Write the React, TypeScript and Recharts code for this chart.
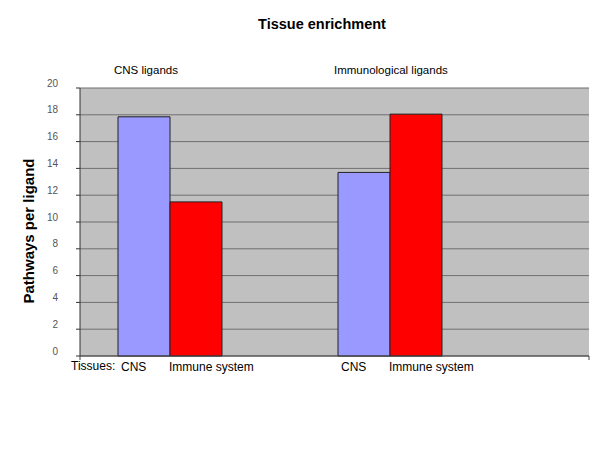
import React from 'react';
import { BarChart, Bar, XAxis, YAxis, CartesianGrid, ReferenceLine, LabelList, Label } from 'recharts';

const groups = ['CNS ligands', 'Immunological ligands'];
const tissues = ['CNS', 'Immune system'];
const cnsTissue = [17.85, 13.7];
const immuneTissue = [11.5, 18.05];
const yTicks = [0, 2, 4, 6, 8, 10, 12, 14, 16, 18, 20];
const axisTicks = [0, 1, 2, 3, 4];

const chartData = groups.map((g, i) => ({ group: g, cns: cnsTissue[i], immune: immuneTissue[i] }));

const FONT = '"Liberation Sans", Arial, sans-serif';

const YTick = (props: any) => {
  const { x, y, payload } = props;
  return (
    <text x={x} y={y - 5} textAnchor="end" dominantBaseline="central" fill="#555" fontSize={10} fontFamily={FONT}>
      {payload.value}
    </text>
  );
};

// group names sit above the plot, left aligned with the group's first bar
const GroupTick = (props: any) => {
  const { x, y, payload } = props;
  return (
    <text x={x - 56} y={y - 6} textAnchor="start" fill="#000" fontSize={11.5} fontFamily={FONT}>
      {payload.value}
    </text>
  );
};

// only the first tick carries the "Tissues:" caption
const BottomTick = (props: any) => {
  const { x, y, payload } = props;
  if (payload.value !== 0) return <g />;
  return (
    <text x={x - 9} y={y + 8} textAnchor="start" fill="#000" fontSize={12} fontFamily={FONT}>
      Tissues:
    </text>
  );
};

const tissueLabel = (name: string, dx: number) => (props: any) => {
  const { x, y, height } = props;
  return (
    <text x={x + dx} y={y + height + 15} textAnchor="start" fill="#000" fontSize={12} fontFamily={FONT}>
      {name}
    </text>
  );
};

const YTitle = (props: any) => {
  const { viewBox } = props;
  const cx = viewBox.x + 28;
  const cy = viewBox.y + viewBox.height / 2 + 9;
  return (
    <text
      x={cx}
      y={cy}
      transform={`rotate(-90, ${cx}, ${cy})`}
      textAnchor="middle"
      dominantBaseline="central"
      fontSize={15}
      fontWeight="bold"
      fontFamily={FONT}
      fill="#000"
    >
      Pathways per ligand
    </text>
  );
};

export default function App() {
  return (
    <div style={{ position: 'absolute', left: 0, top: 0, width: 600, height: 450, background: '#fff' }}>
      <div
        style={{
          position: 'absolute',
          left: 0,
          width: 644,
          top: 16,
          textAlign: 'center',
          fontFamily: FONT,
          fontWeight: 'bold',
          fontSize: 14.5,
        }}
      >
        Tissue enrichment
      </div>
      <BarChart
        width={600}
        height={450}
        data={chartData}
        margin={{ top: 60, right: 11, bottom: 64, left: 0 }}
        barSize={52}
        barGap={0}
      >
        <CartesianGrid vertical={false} fill="#c0c0c0" fillOpacity={1} stroke="#6f6f6f" />
        <XAxis
          xAxisId="groups"
          dataKey="group"
          orientation="top"
          height={28}
          axisLine={false}
          tickLine={false}
          padding={{ left: -20, right: 89 }}
          tick={<GroupTick />}
          interval={0}
        />
        <XAxis
          xAxisId="ticks"
          type="number"
          domain={[0, 4]}
          ticks={axisTicks}
          allowDataOverflow
          height={30}
          axisLine={{ stroke: '#444' }}
          tickLine={{ stroke: '#444' }}
          tickSize={4}
          tick={<BottomTick />}
          interval={0}
        />
        <YAxis
          domain={[0, 20]}
          ticks={yTicks}
          width={80}
          interval={0}
          axisLine={{ stroke: '#333' }}
          tickLine={{ stroke: '#333' }}
          tickSize={4}
          tickMargin={18}
          tick={<YTick />}
        >
          <Label content={<YTitle />} />
        </YAxis>
        <ReferenceLine xAxisId="ticks" x={4} stroke="#6f6f6f" />
        <Bar xAxisId="groups" dataKey="cns" name={tissues[0]} fill="#9999ff" stroke="#222" strokeWidth={1} isAnimationActive={false}>
          <LabelList dataKey="cns" content={tissueLabel(tissues[0], 3)} />
        </Bar>
        <Bar xAxisId="groups" dataKey="immune" name={tissues[1]} fill="#ff0000" stroke="#222" strokeWidth={1} isAnimationActive={false}>
          <LabelList dataKey="immune" content={tissueLabel(tissues[1], -1)} />
        </Bar>
      </BarChart>
    </div>
  );
}
